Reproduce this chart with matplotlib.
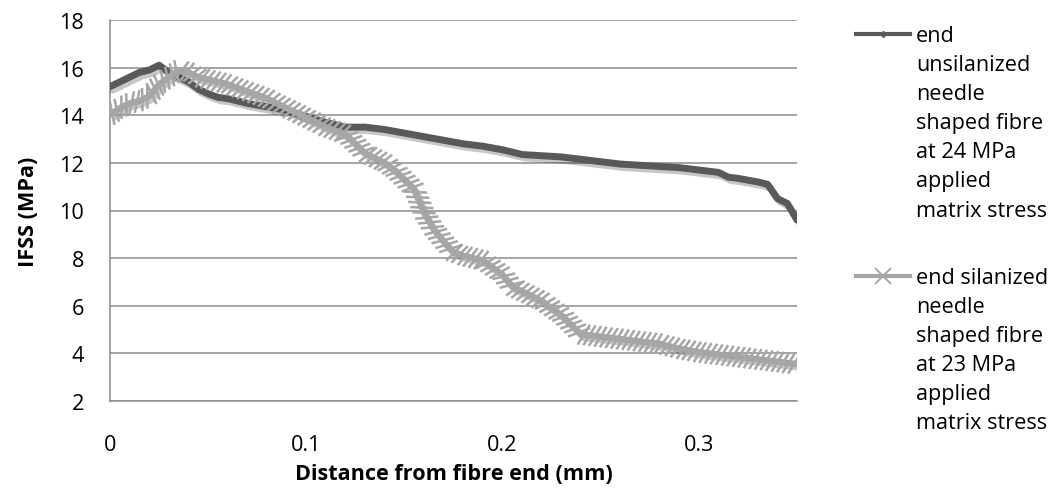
import matplotlib
matplotlib.use("Agg")
import matplotlib.pyplot as plt
import matplotlib.patheffects as pe
from matplotlib.lines import Line2D

# distance from fibre end (mm) and IFSS (MPa)
unsil_x = [0.0, 0.005, 0.01, 0.015, 0.02, 0.025, 0.03, 0.035, 0.04, 0.045, 0.05,
           0.055, 0.06, 0.07, 0.08, 0.09, 0.1, 0.11, 0.12, 0.13, 0.14, 0.15, 0.16,
           0.17, 0.18, 0.19, 0.2, 0.21, 0.22, 0.23, 0.24, 0.25, 0.26, 0.27, 0.28,
           0.29, 0.3, 0.31, 0.315, 0.32, 0.33, 0.335, 0.34, 0.345, 0.35]
unsil_y = [15.2, 15.4, 15.6, 15.8, 15.9, 16.1, 15.8, 15.6, 15.4, 15.1, 14.9,
           14.75, 14.7, 14.5, 14.35, 14.2, 13.95, 13.7, 13.5, 13.5, 13.4, 13.25, 13.1,
           12.95, 12.8, 12.7, 12.55, 12.35, 12.3, 12.25, 12.15, 12.05, 11.95, 11.9, 11.85,
           11.8, 11.7, 11.6, 11.4, 11.35, 11.2, 11.1, 10.5, 10.3, 9.6]

sil_x = [0.0, 0.005, 0.01, 0.015, 0.02, 0.025, 0.03, 0.035, 0.04, 0.045, 0.05,
         0.06, 0.07, 0.08, 0.09, 0.1, 0.11, 0.12, 0.13, 0.14, 0.145, 0.15, 0.155,
         0.16, 0.165, 0.17, 0.175, 0.18, 0.19, 0.2, 0.205, 0.21, 0.22, 0.23, 0.235,
         0.24, 0.25, 0.26, 0.27, 0.28, 0.29, 0.3, 0.31, 0.32, 0.33, 0.34, 0.35]
sil_y = [14.0, 14.3, 14.5, 14.6, 14.8, 15.3, 15.6, 15.9, 15.8, 15.6, 15.5,
         15.3, 15.0, 14.7, 14.3, 13.9, 13.5, 13.2, 12.4, 12.0, 11.7, 11.3, 10.9,
         9.9, 9.2, 8.7, 8.25, 8.1, 7.9, 7.3, 6.8, 6.6, 6.2, 5.6, 5.2,
         4.8, 4.7, 4.6, 4.5, 4.4, 4.2, 4.05, 3.95, 3.85, 3.75, 3.65, 3.55]

x_ticks = [0, 0.1, 0.2, 0.3]
x_ticklabels = ["0", "0.1", "0.2", "0.3"]
y_ticks = [2, 4, 6, 8, 10, 12, 14, 16, 18]

label_unsil = "end\nunsilanized\nneedle\nshaped fibre\nat 24 MPa\napplied\nmatrix stress"
label_sil = "end silanized\nneedle\nshaped fibre\nat 23 MPa\napplied\nmatrix stress"

DARK = "#595959"
LIGHT = "#a6a6a6"
GRID = "#8c8c8c"
W, H = 1058, 489

plt.rcParams["font.family"] = ["Open Sans", "DejaVu Sans"]
plt.rcParams["font.size"] = 15.6

fig = plt.figure(figsize=(W / 100, H / 100), dpi=100)
ax = fig.add_axes([110 / W, 1 - 402 / H, 687 / W, 381 / H])

shadow = pe.SimpleLineShadow(offset=(2, -2.5), shadow_color="k", alpha=0.22)
ticks = [
    pe.TickedStroke(spacing=4.0, angle=65, length=2.1, linewidth=1.8, foreground=LIGHT),
    pe.TickedStroke(spacing=4.0, angle=-115, length=2.1, linewidth=1.8, foreground=LIGHT),
]

ax.plot(unsil_x, unsil_y, color=DARK, lw=5.0, solid_capstyle="round", zorder=3,
        path_effects=[shadow, pe.Normal()])
ax.plot(sil_x, sil_y, color=LIGHT, lw=4.6, solid_capstyle="butt", zorder=4,
        path_effects=[shadow] + ticks + [pe.Normal()])

ax.set_xlim(0, 0.35)
ax.set_ylim(2, 18)
ax.set_xticks(x_ticks)
ax.set_xticklabels(x_ticklabels)
ax.set_yticks(y_ticks)
ax.tick_params(axis="both", length=0, colors="black")
ax.tick_params(axis="x", pad=24)
ax.tick_params(axis="y", pad=18.5)

ax.grid(axis="y", color=GRID, lw=1.1)
ax.set_axisbelow(True)
for side in ["top", "right"]:
    ax.spines[side].set_visible(False)
ax.spines["left"].set_color(GRID)
ax.spines["left"].set_linewidth(1.1)
ax.spines["bottom"].set_color(GRID)
ax.spines["bottom"].set_linewidth(1.1)

ax.set_xlabel("Distance from fibre end (mm)", fontweight="bold", va="center")
ax.xaxis.set_label_coords(0.5, -0.189)
ax.set_ylabel("IFSS (MPa)", fontweight="bold", va="center")
ax.yaxis.set_label_coords((28 - 110) / 687, 0.5)

# legend drawn by hand so the wrapped labels sit like the original
line_gap = 29.1
entries = [
    (label_unsil, 42, dict(color=DARK, lw=3.0, marker="D", markersize=3,
                           markerfacecolor=DARK, markeredgecolor=DARK)),
    (label_sil, 284, dict(color=LIGHT, lw=3.0, marker="x", markersize=11,
                          markeredgewidth=1.4, markeredgecolor=LIGHT)),
]
for text, base, style in entries:
    hy = 1 - (base - 7) / H
    fig.add_artist(Line2D([856 / W, 883 / W, 910 / W], [hy, hy, hy],
                          markevery=[1], transform=fig.transFigure, **style))
    for i, part in enumerate(text.split("\n")):
        fig.text(916 / W, 1 - (base + i * line_gap) / H, part,
                 ha="left", va="baseline", color="black")

fig.savefig("out.png", dpi=100)
